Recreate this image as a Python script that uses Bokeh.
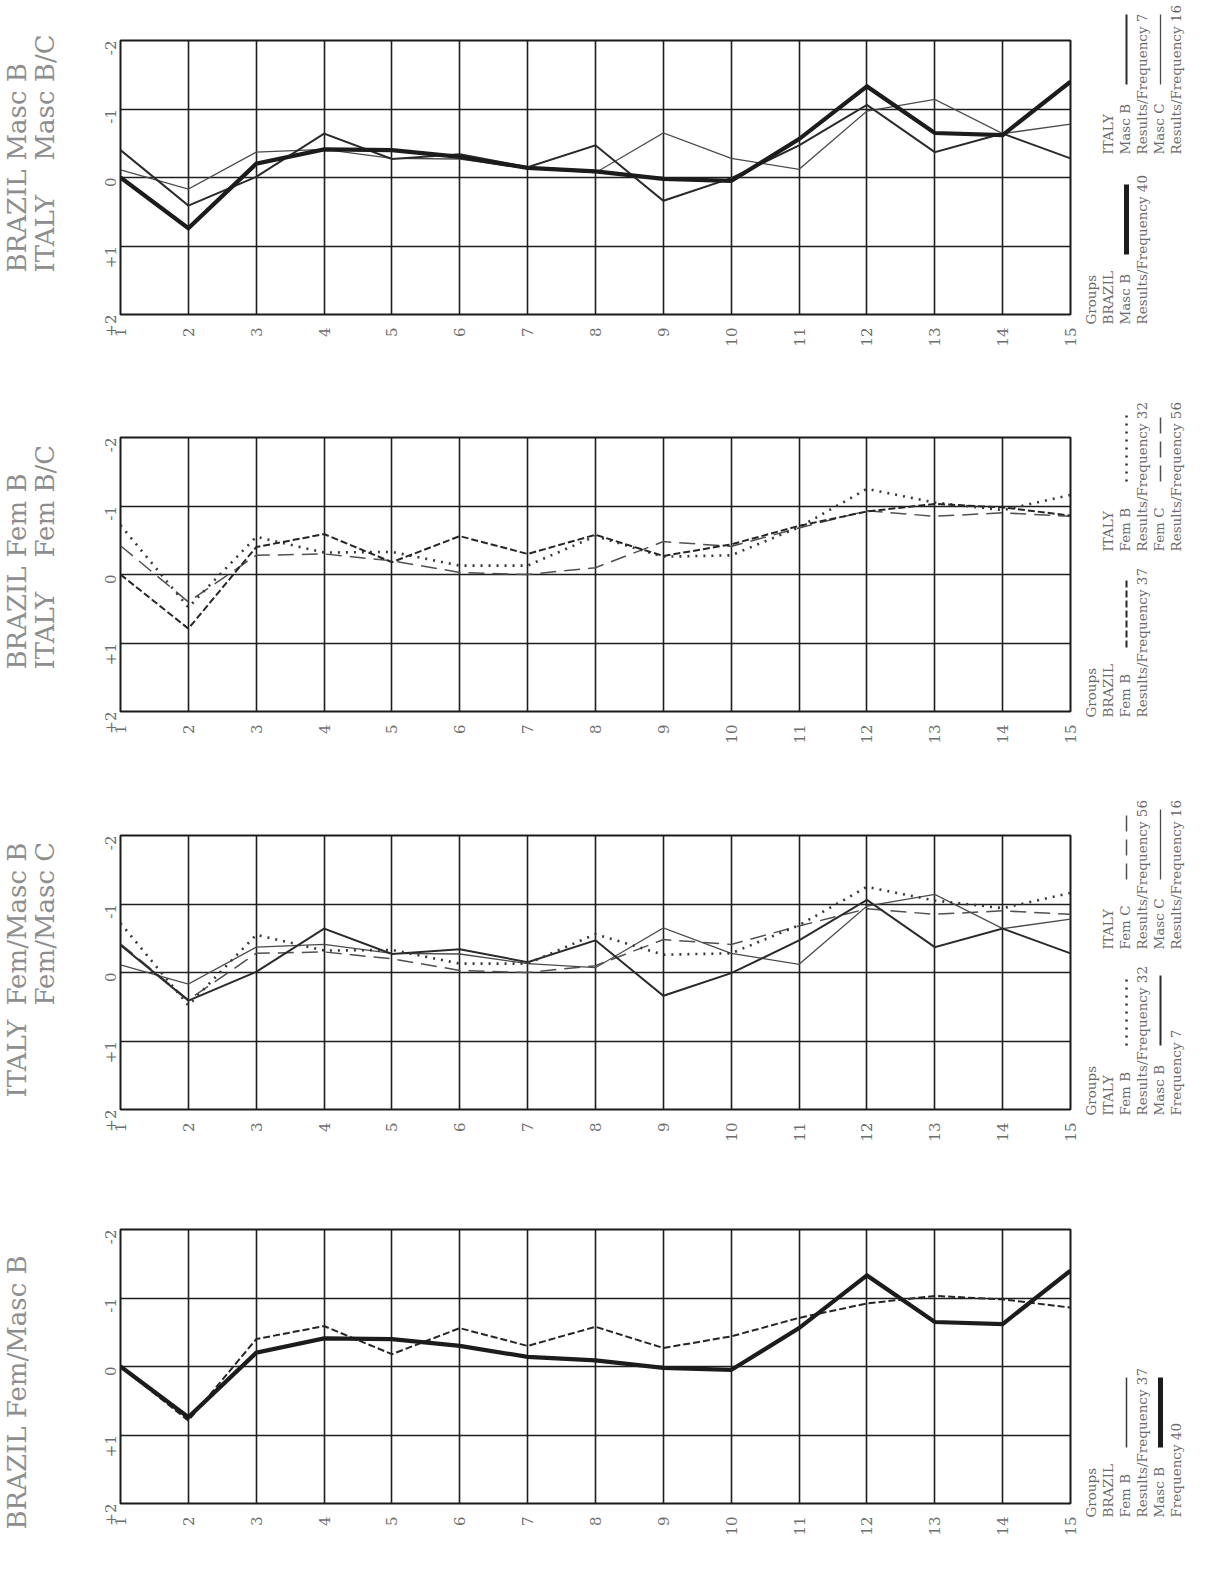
import math
from bokeh.plotting import figure
from bokeh.models import Range1d, FixedTicker
from bokeh.layouts import column
from bokeh.core.properties import value
from bokeh.embed import file_html
from bokeh.resources import INLINE

# ---------------- data ----------------
positions = list(range(1, 16))
x_tick_labels = [str(i) for i in positions]
y_ticks = [-2, -1, 0, 1, 2]
y_tick_labels = ["-2", "-1", "0", "+1", "+2"]

brazil_masc_b = [0.00, 0.74, -0.20, -0.41, -0.40, -0.30, -0.14, -0.09, 0.02, 0.05, -0.56, -1.33, -0.65, -0.62, -1.40]
brazil_fem_b = [0.00, 0.79, -0.40, -0.59, -0.18, -0.56, -0.30, -0.58, -0.27, -0.44, -0.71, -0.92, -1.03, -0.98, -0.86]
italy_masc_b = [-0.40, 0.41, -0.01, -0.64, -0.27, -0.34, -0.15, -0.47, 0.34, 0.01, -0.47, -1.06, -0.37, -0.64, -0.28]
italy_masc_c = [-0.11, 0.17, -0.37, -0.41, -0.28, -0.27, -0.13, -0.07, -0.65, -0.28, -0.12, -0.97, -1.14, -0.64, -0.78]
italy_fem_b = [-0.72, 0.48, -0.55, -0.32, -0.33, -0.13, -0.13, -0.56, -0.26, -0.28, -0.69, -1.25, -1.05, -0.94, -1.16]
italy_fem_c = [-0.42, 0.40, -0.28, -0.30, -0.20, -0.03, 0.00, -0.10, -0.48, -0.41, -0.68, -0.93, -0.85, -0.90, -0.85]

SERIES = {
    "bra_masc_b": brazil_masc_b,
    "bra_fem_b": brazil_fem_b,
    "ita_masc_b": italy_masc_b,
    "ita_masc_c": italy_masc_c,
    "ita_fem_b": italy_fem_b,
    "ita_fem_c": italy_fem_c,
}

STYLE = {
    "bra_masc_b": dict(line_color="#1c1c1c", line_width=4.2),
    "ita_masc_b": dict(line_color="#2a2a2a", line_width=2.0),
    "ita_masc_c": dict(line_color="#4a4a4a", line_width=1.3),
    "bra_fem_b": dict(line_color="#262626", line_width=2.0, line_dash="7 3"),
    "ita_fem_b": dict(line_color="#383838", line_width=2.6, line_dash="2 6"),
    "ita_fem_c": dict(line_color="#505050", line_width=1.5, line_dash="16 8"),
    "plain_thin": dict(line_color="#3a3a3a", line_width=1.5),
}

PANELS = [
    dict(series=["ita_masc_c", "ita_masc_b", "bra_masc_b"],
         titles=[(0, "BRAZIL", "Masc B"), (1, "ITALY", "Masc B/C")], prefix_w=112, title_d=42,
         legend=[(0, 10, [("Groups", None), ("BRAZIL", None), ("Masc B", "bra_masc_b"),
                          ("Results/Frequency 40", None)]),
                 (1, -160, [("ITALY", None), ("Masc B", "ita_masc_b"), ("Results/Frequency 7", None),
                            ("Masc C", "ita_masc_c"), ("Results/Frequency 16", None)])]),
    dict(series=["ita_fem_c", "ita_fem_b", "bra_fem_b"],
         titles=[(0, "BRAZIL", "Fem B"), (1, "ITALY", "Fem B/C")], prefix_w=112, title_d=42,
         legend=[(0, 6, [("Groups", None), ("BRAZIL", None), ("Fem B", "bra_fem_b"),
                         ("Results/Frequency 37", None)]),
                 (1, -160, [("ITALY", None), ("Fem B", "ita_fem_b"), ("Results/Frequency 32", None),
                            ("Fem C", "ita_fem_c"), ("Results/Frequency 56", None)])]),
    dict(series=["ita_masc_c", "ita_fem_c", "ita_masc_b", "ita_fem_b"],
         titles=[(0, "ITALY", "Fem/Masc B"), (1, "", "Fem/Masc C")], prefix_w=92, title_d=12,
         legend=[(0, 6, [("Groups", None), ("ITALY", None), ("Fem B", "ita_fem_b"),
                         ("Results/Frequency 32", None), ("Masc B", "ita_masc_b"), ("Frequency 7", None)]),
                 (1, -160, [("ITALY", None), ("Fem C", "ita_fem_c"), ("Results/Frequency 56", None),
                            ("Masc C", "ita_masc_c"), ("Results/Frequency 16", None)])]),
    dict(series=["bra_fem_b", "bra_masc_b"],
         titles=[(0, "BRAZIL Fem/Masc B", "")], prefix_w=0, title_d=-26,
         legend=[(0, 14, [("Groups", None), ("BRAZIL", None), ("Fem B", "plain_thin"),
                          ("Results/Frequency 37", None), ("Masc B", "bra_masc_b"), ("Frequency 40", None)])]),
]

# ---------------- layout ----------------
FIG_TOPS = [8, 405, 803, 1197]
HEIGHTS = [397, 398, 394, 371]
FIG_W = 1196
TOP_B = 40
FRAME_H = 274
LEFT_B = 120
FRAME_W = 950
FRAME_LEFT_PAGE = 8 + LEFT_B
FONT = value("DejaVu Serif")
TITLE_X = [24, 52]          # page x of the two title lines
LEG_X0, LEG_DX = 1098, 17    # page x of legend lines


def px2x(px):
    return 1 + (px - FRAME_LEFT_PAGE) * 14.0 / FRAME_W


figs = []
for k, pnl in enumerate(PANELS):
    H = HEIGHTS[k]
    ftop = FIG_TOPS[k] + TOP_B
    fbot = ftop + FRAME_H

    def py2y(py):
        return -2 + (py - ftop) * 4.0 / FRAME_H

    p = figure(width=FIG_W, height=H, x_range=Range1d(1, 15), y_range=Range1d(2, -2),
               toolbar_location=None, output_backend="svg",
               min_border_left=LEFT_B, min_border_right=FIG_W - LEFT_B - FRAME_W,
               min_border_top=TOP_B, min_border_bottom=H - TOP_B - FRAME_H)
    p.outline_line_color = "#1a1a1a"
    p.outline_line_width = 2
    p.xaxis.ticker = FixedTicker(ticks=positions)
    p.xaxis.major_label_overrides = {t: s for t, s in zip(positions, x_tick_labels)}
    p.yaxis.ticker = FixedTicker(ticks=y_ticks)
    p.yaxis.major_label_overrides = {t: s for t, s in zip(y_ticks, y_tick_labels)}
    for ax in (p.xaxis[0], p.yaxis[0]):
        ax.axis_line_color = None
        ax.major_tick_line_color = None
        ax.minor_tick_line_color = None
        ax.major_tick_in = 0
        ax.major_tick_out = 0
        ax.major_label_orientation = math.pi / 2
        ax.major_label_text_font = "DejaVu Serif"
        ax.major_label_text_font_size = "15px"
        ax.major_label_text_color = "#6e6e6e"
    p.xaxis.major_label_text_baseline = "middle"
    p.xaxis.major_label_standoff = 13
    p.yaxis.major_label_standoff = 10
    p.xgrid.ticker = FixedTicker(ticks=positions)
    p.ygrid.ticker = FixedTicker(ticks=y_ticks)
    p.grid.grid_line_color = "#1e1e1e"
    p.grid.grid_line_width = 1.6
    p.grid.grid_line_alpha = 1.0

    for key in pnl["series"]:
        p.line(positions, SERIES[key], line_join="miter", **STYLE[key])

    # titles (rotated, left margin)
    start = fbot - pnl["title_d"]
    for col, pre, suf in pnl["titles"]:
        for txt, yy in ((pre, start), (suf, start - pnl["prefix_w"])):
            if txt:
                p.text(x=[px2x(TITLE_X[col])], y=[py2y(yy)], text=[txt], angle=math.pi / 2,
                       text_font=FONT, text_font_size="26px", text_color="#8e8e8e",
                       text_align="left", text_baseline="middle", level="annotation")

    # legend (rotated, right margin)
    for offset, dy, lines in pnl["legend"]:
        col_start = fbot + dy
        for i, (txt, sty) in enumerate(lines):
            lx = LEG_X0 + LEG_DX * (offset + i)
            p.text(x=[px2x(lx)], y=[py2y(col_start)], text=[txt], angle=math.pi / 2,
                   text_font=FONT, text_font_size="13.5px", text_color="#6a6a6a",
                   text_align="left", text_baseline="middle", level="annotation")
            if sty:
                st = dict(STYLE[sty])
                if sty == "bra_masc_b":
                    st["line_width"] = 5
                p.segment(x0=[px2x(lx + 2)], y0=[py2y(col_start - 70)],
                          x1=[px2x(lx + 2)], y1=[py2y(col_start - 140)],
                          level="annotation", **st)

    figs.append(p)

layout = column(*figs)
open("out.html", "w").write(file_html(layout, INLINE))
